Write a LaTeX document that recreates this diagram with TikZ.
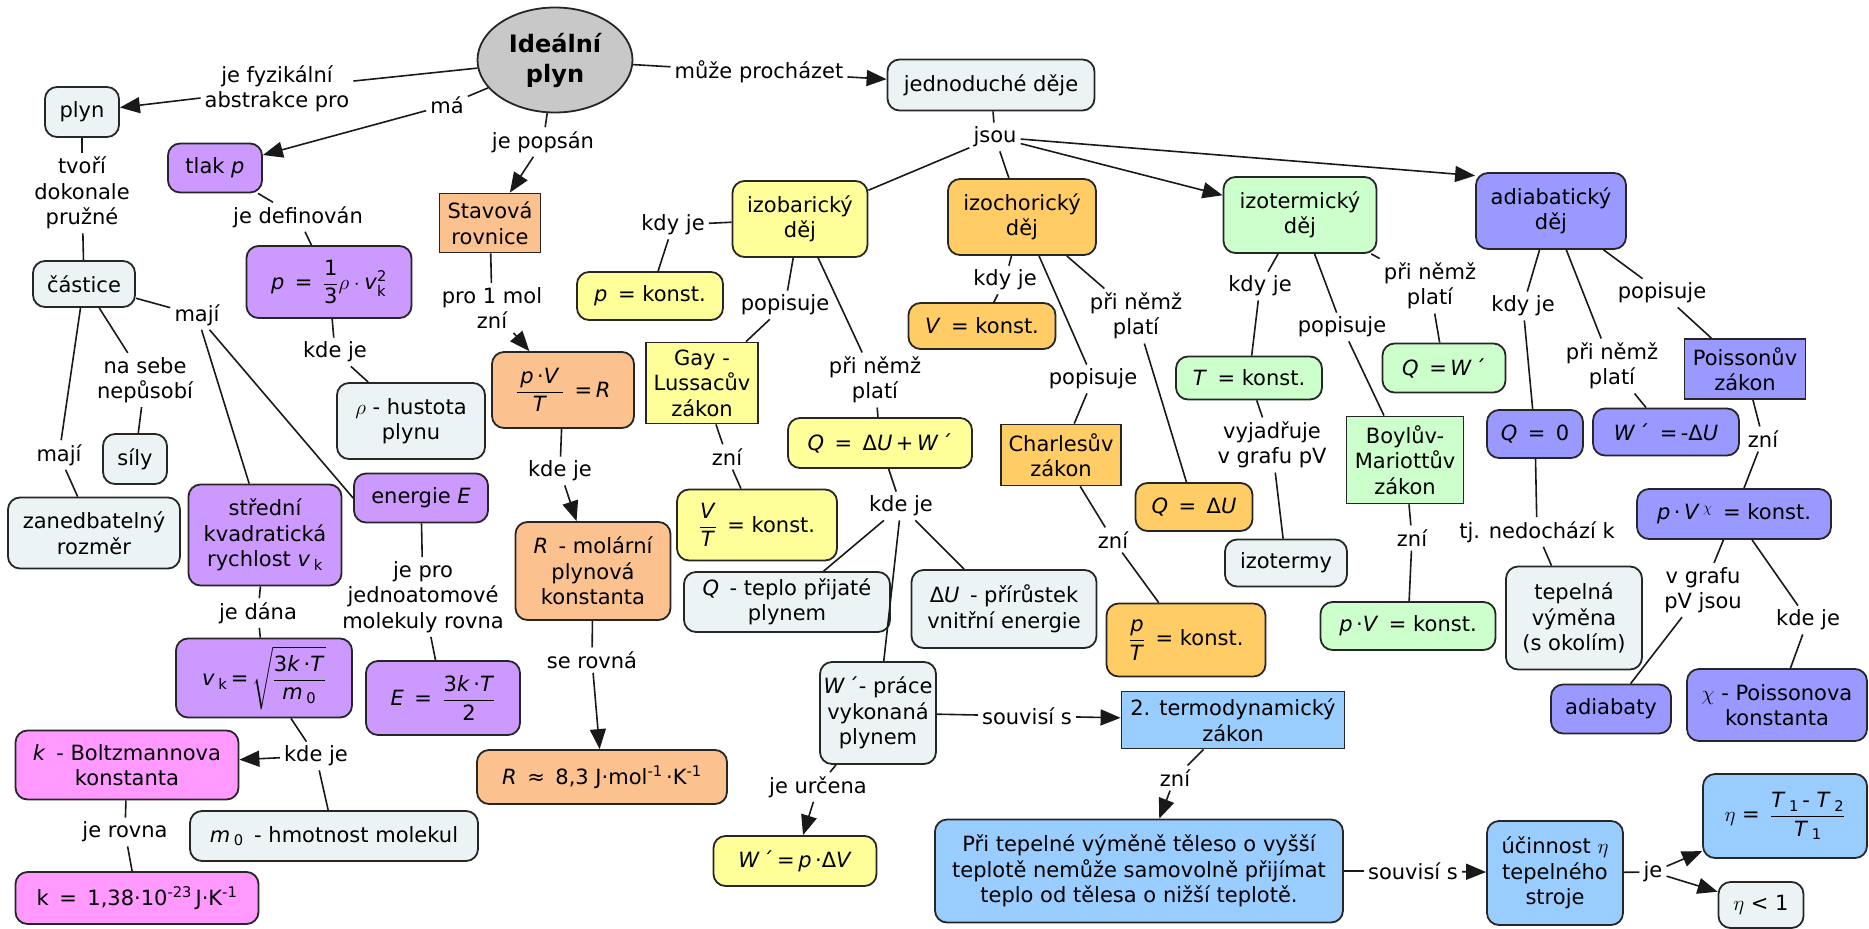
\RequirePackage{fix-cm}
\documentclass[tikz,border=0pt]{standalone}
\usepackage{amsmath}
\usepackage{fontspec}
\setmainfont{DejaVu Sans}
\usetikzlibrary{arrows.meta, shapes.geometric}

\definecolor{cmapgray}{RGB}{200,200,200}
\definecolor{pale}{RGB}{235,243,245}
\definecolor{lilac}{RGB}{204,153,255}
\definecolor{peach}{RGB}{251,193,143}
\definecolor{lemon}{RGB}{255,255,153}
\definecolor{amber}{RGB}{255,204,102}
\definecolor{mint}{RGB}{204,255,204}
\definecolor{periw}{RGB}{153,153,255}
\definecolor{rose}{RGB}{255,153,255}
\definecolor{sky}{RGB}{153,204,255}

\newcommand{\qit}[1]{\textit{#1}}
\newcommand{\idx}[1]{\textsubscript{#1}}
\newcommand{\pow}[1]{\textsuperscript{#1}}

\begin{document}
\begin{tikzpicture}[x=1pt, y=-1pt,
    font=\fontsize{21}{25.5}\selectfont,
    >={Triangle[length=20pt,width=16pt]},
    concept/.style={draw=black!85, line width=1.8pt, rounded corners=12pt,
                    align=center, inner sep=3pt},
    law/.style={draw=black!85, line width=1.8pt, align=center, inner sep=3pt},
    dims/.style 2 args={minimum width=#1, minimum height=#2},
    linkword/.style={align=center, inner sep=4pt},
    link/.style={line width=1.6pt, draw=black!90},
    flow/.style={link, ->}
  ]
  \useasboundingbox (0,0) rectangle (1869,929);

  % ===== CENTRE =====
  \node[ellipse, draw=black!85, line width=1.8pt, fill=cmapgray, inner sep=0pt,
        minimum width=155, minimum height=105, align=center,
        font=\fontsize{24}{30}\selectfont\bfseries] (ideal) at (555,60) {Ideální\\plyn};

  % ===== PARTICLES, PRESSURE =====
  \node[concept, fill=pale, dims={74}{50}]    (plyn)    at (82,112)  {plyn};
  \node[concept, fill=lilac, dims={94}{49}]   (tlak)    at (215,168) {tlak \qit{p}};
  \node[concept, fill=pale, dims={102}{46}]   (castice) at (84,284)  {částice};
  \node[concept, fill=lilac, dims={165}{72}]  (pdef)    at (329,282)
    {\qit{p}\enspace=\enspace$\dfrac{\text{1}}{\text{3}}\rho\cdot\text{\qit{v}}^{\text{2}}_{\text{k}}$};
  \node[concept, fill=pale, dims={64}{50}]    (sily)    at (135,459) {síly};
  \node[concept, fill=pale, dims={172}{71}]   (zanedb)  at (94,533)  {zanedbatelný\\rozměr};
  \node[concept, fill=lilac, dims={153}{101}] (stredni) at (265,535) {střední\\kvadratická\\rychlost \qit{v}\,\idx{k}};
  \node[concept, fill=lilac, dims={134}{49}]  (energie) at (421,498) {energie \qit{E}};
  \node[concept, fill=pale, dims={148}{76}]   (rho)     at (411,421) {$\rho$ - hustota\\plynu};
  \node[concept, fill=lilac, dims={176}{79}]  (vkform)  at (264,678)
    {\qit{v}\,\idx{k}\,=\,$\sqrt{\dfrac{\text{3\qit{k}\,·\qit{T}}}{\text{\qit{m}\,\idx{0}}}}$};
  \node[concept, fill=lilac, dims={154}{74}]  (eform)   at (443,698)
    {\qit{E}\enspace=\enspace$\dfrac{\text{3\qit{k}\,·\qit{T}}}{\text{2}}$};
  \node[concept, fill=rose, dims={223}{69}]   (kbolt)   at (127,765) {\qit{k}\enspace- Boltzmannova\\konstanta};
  \node[concept, fill=pale, dims={288}{50}]   (m0)      at (334,836) {\qit{m}\,\idx{0}\enspace- hmotnost molekul};
  \node[concept, fill=rose, dims={243}{52}]   (kval)    at (137,898) {k\enspace=\enspace1,38·10\pow{-23}\,J·K\pow{-1}};

  % ===== STATE EQUATION =====
  \node[law, fill=peach, dims={101}{59}]      (stavova) at (490,223) {Stavová\\rovnice};
  \node[concept, fill=peach, dims={142}{76}]  (pvtr)    at (563,390)
    {$\dfrac{\text{\,\qit{p}\,·\qit{V}\,}}{\text{\qit{T}}}$\enspace=\,\qit{R}};
  \node[concept, fill=peach, dims={155}{98}]  (rmol)    at (593,571) {\qit{R}\enspace- molární\\plynová\\konstanta};
  \node[concept, fill=peach, dims={250}{54}]  (rval)    at (602,777) {\qit{R}\enspace≈\enspace8,3 J·mol\pow{-1}\,·K\pow{-1}};

  % ===== SIMPLE PROCESSES =====
  \node[concept, fill=pale, dims={207}{51}]   (jednoduche) at (991,85) {jednoduché děje};
  \node[concept, fill=lemon, dims={135}{76}]  (izobar)  at (800,219)  {izobarický\\děj};
  \node[concept, fill=amber, dims={148}{76}]  (izochor) at (1022,217) {izochorický\\děj};
  \node[concept, fill=mint, dims={153}{76}]   (izoterm) at (1300,215) {izotermický\\děj};
  \node[concept, fill=periw, dims={150}{76}]  (adiabat) at (1551,211) {adiabatický\\děj};

  % isobaric
  \node[concept, fill=lemon, dims={146}{48}]  (pkonst)  at (650,296) {\qit{p}\enspace= konst.};
  \node[law, fill=lemon, dims={112}{81}]      (gay)     at (702,383) {Gay -\\Lussacův\\zákon};
  \node[concept, fill=lemon, dims={160}{71}]  (vtkonst) at (757,525)
    {$\dfrac{\text{\qit{V}}}{\text{\qit{T}}}$\enspace= konst.};
  \node[concept, fill=lemon, dims={184}{50}]  (qdu)     at (880,443) {\qit{Q}\enspace=\enspace Δ\qit{U}\,+\,\qit{W}\,´};
  \node[concept, fill=pale, dims={206}{60}]   (qteplo)  at (787,602) {\qit{Q}\enspace- teplo přijaté\\plynem};
  \node[concept, fill=pale, dims={185}{78}]   (duprir)  at (1004,609) {Δ\qit{U}\enspace- přírůstek\\vnitřní energie};
  \node[concept, fill=pale, dims={116}{102}]  (wprace)  at (878,713) {\qit{W}\,´- práce\\vykonaná\\plynem};
  \node[concept, fill=lemon, dims={163}{50}]  (wpdv)    at (795,861) {\qit{W}\,´\,=\,\qit{p}\,·Δ\qit{V}};

  % isochoric
  \node[concept, fill=amber, dims={147}{46}]  (vkonst)  at (982,326) {\qit{V}\enspace= konst.};
  \node[law, fill=amber, dims={120}{61}]      (charles) at (1061,455) {Charlesův\\zákon};
  \node[concept, fill=amber, dims={117}{48}]  (qdelta)  at (1194,507) {\qit{Q}\enspace=\enspace Δ\qit{U}};
  \node[concept, fill=amber, dims={159}{73}]  (ptkonst) at (1186,640)
    {$\dfrac{\text{\qit{p}}}{\text{\qit{T}}}$\enspace= konst.};

  % isothermal
  \node[concept, fill=mint, dims={146}{43}]   (tkonst)  at (1249,378) {\qit{T}\enspace= konst.};
  \node[concept, fill=pale, dims={122}{47}]   (izotermy) at (1286,563) {izotermy};
  \node[law, fill=mint, dims={117}{87}]       (boyle)   at (1405,460) {Boylův-\\Mariottův\\zákon};
  \node[concept, fill=mint, dims={123}{49}]   (qw)      at (1444,368) {\qit{Q}\enspace=\,\qit{W}\,´};
  \node[concept, fill=mint, dims={175}{48}]   (pvkonst) at (1408,626) {\qit{p}\,·\qit{V}\enspace= konst.};

  % adiabatic
  \node[law, fill=periw, dims={121}{60}]      (poisson) at (1745,369) {Poissonův\\zákon};
  \node[concept, fill=periw, dims={96}{48}]   (qnula)   at (1535,434) {\qit{Q}\enspace=\enspace0};
  \node[concept, fill=periw, dims={146}{47}]  (wdu)     at (1666,432) {\qit{W}\,´\enspace=\,-Δ\qit{U}};
  \node[concept, fill=periw, dims={194}{50}]  (pvchi)   at (1734,514) {\qit{p}\,·\,\qit{V}\,\pow{$\chi$}\enspace= konst.};
  \node[concept, fill=pale, dims={136}{103}]  (tepelna) at (1574,618) {tepelná\\výměna\\(s okolím)};
  \node[concept, fill=periw, dims={120}{49}]  (adiabaty) at (1611,709) {adiabaty};
  \node[concept, fill=periw, dims={180}{72}]  (chi)     at (1777,705) {$\chi$ - Poissonova\\konstanta};

  % ===== SECOND LAW =====
  \node[law, fill=sky, dims={223}{57}]        (druhy)   at (1233,720) {2. termodynamický\\zákon};
  \node[concept, fill=sky, dims={408}{103}]   (pri)     at (1139,871)
    {Při tepelné výměně těleso o vyšší\\teplotě nemůže samovolně přijímat\\teplo od tělesa o nižší teplotě.};
  \node[concept, fill=sky, dims={136}{104}]   (ucinnost) at (1555,873) {účinnost $\eta$\\tepelného\\stroje};
  \node[concept, fill=sky, dims={164}{84}]    (eta)     at (1785,816)
    {$\eta$ =\enspace$\dfrac{\text{\qit{T}\,\idx{1}\,- \qit{T}\,\idx{2}}}{\text{\qit{T}\,\idx{1}}}$};
  \node[concept, fill=pale, dims={85}{46}]    (etamensi) at (1761,905) {$\eta$ < 1};

  % ===== LINKING PHRASES =====
  \node[linkword] (abstr)      at (277,89)   {je fyzikální\\abstrakce pro};
  \node[linkword] (ma)         at (447,105)  {má};
  \node[linkword] (tvori)      at (82,193)   {tvoří\\dokonale\\pružné};
  \node[linkword] (defin)      at (298,217)  {je definován};
  \node[linkword] (popsan)     at (543,142)  {je popsán};
  \node[linkword] (prochazet)  at (759,72)   {může procházet};
  \node[linkword] (jsou)       at (995,137)  {jsou};
  \node[linkword] (maji1)      at (197,315)  {mají};
  \node[linkword] (maji2)      at (59,455)   {mají};
  \node[linkword] (nepusobi)   at (145,380)  {na sebe\\nepůsobí};
  \node[linkword] (kdejerho)   at (335,352)  {kde je};
  \node[linkword] (jepro)      at (423,597)  {je pro\\jednoatomové\\molekuly rovna};
  \node[linkword] (dana)       at (258,613)  {je dána};
  \node[linkword] (kdejek)     at (316,756)  {kde je};
  \node[linkword] (rovna)      at (125,832)  {je rovna};
  \node[linkword] (promol)     at (492,308)  {pro 1 mol\\zní};
  \node[linkword] (kdejer)     at (560,471)  {kde je};
  \node[linkword] (serovna)    at (592,660)  {se rovná};
  \node[linkword] (kdyjeP)     at (673,225)  {kdy je};
  \node[linkword] (popisujeP)  at (785,305)  {popisuje};
  \node[linkword] (zniGay)     at (727,457)  {zní};
  \node[linkword] (platiP)     at (875,380)  {při němž\\platí};
  \node[linkword] (kdejeQ)     at (901,506)  {kde je};
  \node[linkword] (urcena)     at (818,787)  {je určena};
  \node[linkword] (souvisi1)   at (1027,716) {souvisí s};
  \node[linkword] (zniDruhy)   at (1175,778) {zní};
  \node[linkword] (souvisi2)   at (1413,871) {souvisí s};
  \node[linkword] (je)         at (1653,872) {je};
  \node[linkword] (kdyjeV)     at (1005,280) {kdy je};
  \node[linkword] (platiV)     at (1136,316) {při němž\\platí};
  \node[linkword] (popisujeV)  at (1093,379) {popisuje};
  \node[linkword] (zniCharles) at (1113,540) {zní};
  \node[linkword] (kdyjeT)     at (1260,286) {kdy je};
  \node[linkword] (vyjadruje)  at (1272,445) {vyjadřuje\\v grafu pV};
  \node[linkword] (popisujeT)  at (1342,327) {popisuje};
  \node[linkword] (platiT)     at (1430,286) {při němž\\platí};
  \node[linkword] (zniBoyle)   at (1412,538) {zní};
  \node[linkword] (kdyjeA)     at (1523,306) {kdy je};
  \node[linkword] (platiA)     at (1612,366) {při němž\\platí};
  \node[linkword] (popisujeA)  at (1662,293) {popisuje};
  \node[linkword] (zniPoisson) at (1763,439) {zní};
  \node[linkword] (nedochazi)  at (1537,532) {tj. nedochází k};
  \node[linkword] (grafu)      at (1703,590) {v grafu\\pV jsou};
  \node[linkword] (kdejeChi)   at (1808,620) {kde je};

  % ===== CONNECTORS: gas, particles =====
  \draw[link] (ideal) -- (abstr);
  \draw[flow] (abstr) -- (plyn);
  \draw[link] (ideal) -- (ma);
  \draw[flow] (ma) -- (tlak);
  \draw[link] (plyn) -- (tvori);
  \draw[link] (tvori) -- (castice);
  \draw[link] (castice) -- (maji1);
  \draw[link] (maji1) -- (stredni);
  \draw[link] (maji1) -- (energie.west);
  \draw[link] (castice) -- (maji2);
  \draw[link] (maji2) -- (zanedb);
  \draw[link] (castice) -- (nepusobi);
  \draw[link] (nepusobi) -- (sily);
  \draw[link] (tlak) -- (defin);
  \draw[link] (defin) -- (pdef);
  \draw[link] (pdef) -- (kdejerho);
  \draw[link] (kdejerho) -- (rho);
  \draw[link] (energie) -- (jepro);
  \draw[link] (jepro) -- (eform);
  \draw[link] (stredni) -- (dana);
  \draw[link] (dana) -- (vkform);
  \draw[link] (vkform) -- (kdejek);
  \draw[flow] (kdejek) -- (kbolt);
  \draw[link] (kdejek) -- (m0);
  \draw[link] (kbolt) -- (rovna);
  \draw[link] (rovna) -- (kval);

  % ===== CONNECTORS: state equation =====
  \draw[link] (ideal) -- (popsan);
  \draw[flow] (popsan) -- (stavova);
  \draw[link] (stavova) -- (promol);
  \draw[flow] (promol) -- (pvtr);
  \draw[link] (pvtr) -- (kdejer);
  \draw[flow] (kdejer) -- (rmol);
  \draw[link] (rmol) -- (serovna);
  \draw[flow] (serovna) -- (rval);

  % ===== CONNECTORS: processes =====
  \draw[link] (ideal) -- (prochazet);
  \draw[flow] (prochazet) -- (jednoduche);
  \draw[link] (jednoduche) -- (jsou);
  \draw[link] (jsou) -- (izobar);
  \draw[link] (jsou) -- (izochor);
  \draw[flow] (jsou) -- (izoterm);
  \draw[flow] (jsou) -- (adiabat.155);

  % isobaric
  \draw[link] (izobar) -- (kdyjeP);
  \draw[link] (kdyjeP) -- (pkonst);
  \draw[link] (izobar) -- (popisujeP);
  \draw[link] (popisujeP) -- (gay);
  \draw[link] (gay) -- (zniGay);
  \draw[link] (zniGay) -- (vtkonst);
  \draw[link] (izobar) -- (platiP);
  \draw[link] (platiP) -- (qdu);
  \draw[link] (qdu) -- (kdejeQ);
  \draw[link] (kdejeQ) -- (qteplo);
  \draw[link] (kdejeQ) -- (wprace);
  \draw[link] (kdejeQ) -- (duprir);
  \draw[link] (wprace) -- (urcena);
  \draw[flow] (urcena) -- (wpdv);
  \draw[link] (wprace) -- (souvisi1);
  \draw[flow] (souvisi1) -- (druhy);
  \draw[link] (druhy) -- (zniDruhy);
  \draw[flow] (zniDruhy) -- (pri);
  \draw[link] (pri) -- (souvisi2);
  \draw[flow] (souvisi2) -- (ucinnost);
  \draw[link] (ucinnost) -- (je);
  \draw[flow] (je) -- (eta);
  \draw[flow] (je) -- (etamensi);

  % isochoric
  \draw[link] (izochor) -- (kdyjeV);
  \draw[link] (kdyjeV) -- (vkonst);
  \draw[link] (izochor) -- (platiV);
  \draw[link] (platiV) -- (qdelta);
  \draw[link] (izochor) -- (popisujeV);
  \draw[link] (popisujeV) -- (charles);
  \draw[link] (charles) -- (zniCharles);
  \draw[link] (zniCharles) -- (ptkonst);

  % isothermal
  \draw[link] (izoterm) -- (kdyjeT);
  \draw[link] (kdyjeT) -- (tkonst);
  \draw[link] (tkonst) -- (vyjadruje);
  \draw[link] (vyjadruje) -- (izotermy);
  \draw[link] (izoterm) -- (popisujeT);
  \draw[link] (popisujeT) -- (boyle);
  \draw[link] (boyle) -- (zniBoyle);
  \draw[link] (zniBoyle) -- (pvkonst);
  \draw[link] (izoterm) -- (platiT);
  \draw[link] (platiT) -- (qw);

  % adiabatic
  \draw[link] (adiabat) -- (kdyjeA);
  \draw[link] (kdyjeA) -- (qnula);
  \draw[link] (adiabat) -- (platiA);
  \draw[link] (platiA) -- (wdu);
  \draw[link] (adiabat) -- (popisujeA);
  \draw[link] (popisujeA) -- (poisson);
  \draw[link] (poisson) -- (zniPoisson);
  \draw[link] (zniPoisson) -- (pvchi);
  \draw[link] (qnula) -- (nedochazi);
  \draw[link] (nedochazi) -- (tepelna);
  \draw[link] (pvchi) -- (grafu);
  \draw[link] (grafu) -- (adiabaty);
  \draw[link] (pvchi) -- (kdejeChi);
  \draw[link] (kdejeChi) -- (chi);

\end{tikzpicture}
\end{document}
